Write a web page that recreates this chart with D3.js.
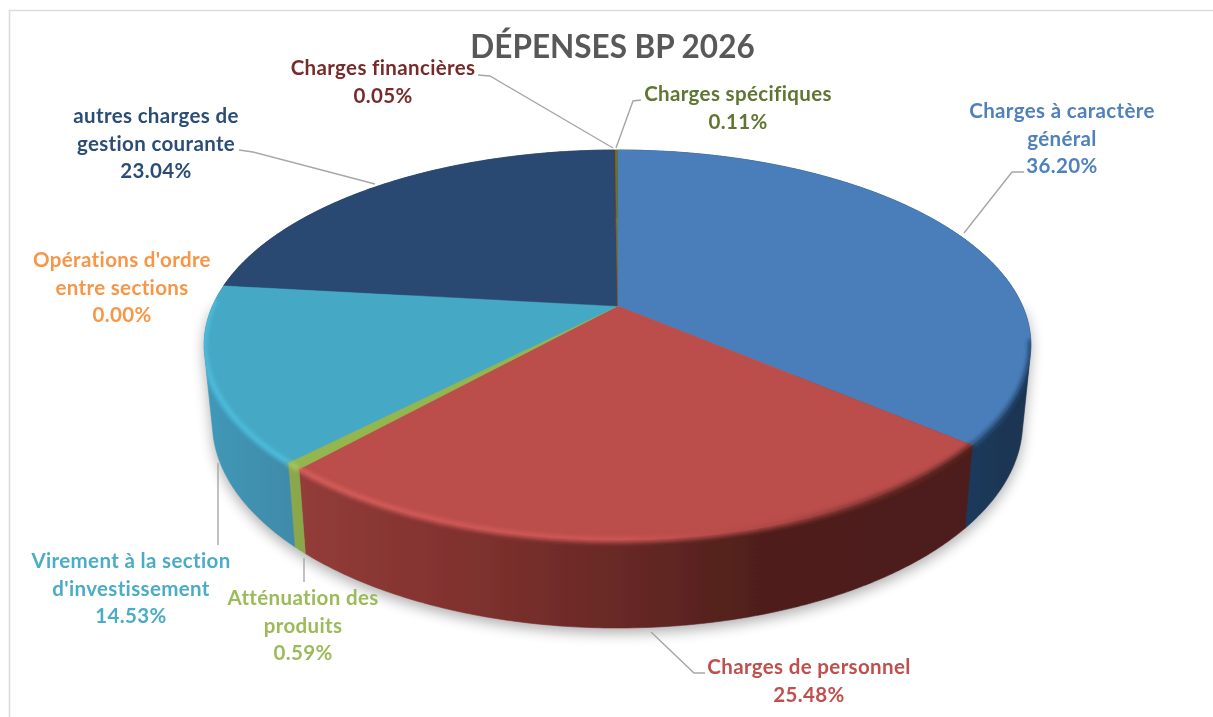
<!DOCTYPE html>
<html lang="fr">
<head>
<meta charset="utf-8">
<title>Dépenses BP 2026</title>
<script src="https://cdn.jsdelivr.net/npm/d3@7"></script>
<style>
  html, body { margin: 0; padding: 0; background: #fff; }
  svg { display: block; }
  text { font-family: Lato, "Open Sans", sans-serif; font-weight: 700; text-anchor: middle; }
</style>
</head>
<body>
<svg id="chart"></svg>
<script>
const chartTitle = 'DÉPENSES BP 2026';
const categories = [
  ['Charges à caractère', 'général'],
  ['Charges de personnel'],
  ['Atténuation des', 'produits'],
  ["Virement à la section", "d'investissement"],
  ["Opérations d'ordre", 'entre sections'],
  ['autres charges de', 'gestion courante'],
  ['Charges financières'],
  ['Charges spécifiques'],
];
const shares = [36.2, 25.48, 0.59, 14.53, 0.0, 23.04, 0.05, 0.11];

const faceColors = ['#4a7ebb', '#bb4e4b', '#93b64f', '#45a8c4', '#f79646', '#2a4a72', '#772c2a', '#5f7530'];
const textColors = ['#4f81bd', '#c0504d', '#9bbb59', '#4bacc6', '#f79646', '#2c4d75', '#772c2a', '#5f7530'];

// wall shading, [x px, colour]
const wallStops = [
  [[965, '#1c3a5c'], [1030, '#1b3350']],
  [[305, '#923c39'], [450, '#82322f'], [617, '#682926'], [760, '#4f1f1b'], [965, '#4e1e1a']],
  [[295, '#8aa84b'], [310, '#8aa84b']],
  [[205, '#3f98b8'], [295, '#3f8aa9']],
  [[200, '#c47535'], [210, '#c47535']],
  [[200, '#1f3a5c'], [617, '#1f3a5c']],
  [[600, '#5a2220'], [620, '#5a2220']],
  [[600, '#4a5c26'], [620, '#4a5c26']],
];
// soft rim highlight where the top face meets the wall
const bevelStops = [
  [[965, '#2f5a87'], [1035, '#1f3f63']],
  [[305, '#d9605c'], [620, '#d05855'], [780, '#a94542'], [900, '#702d2a'], [970, '#5a2522']],
  [[290, '#a4c85f'], [310, '#a4c85f']],
  [[205, '#4fbfe0'], [295, '#4fbfe0']],
  null,
  null,
  null,
  null,
];

// label layout: centre x, first line y, leader polyline
const labelLayout = [
  { x: 1062, y: 118, leader: [[1024, 172], [1012, 172], [964, 233]] },
  { x: 809, y: 674, leader: [[705, 673], [694, 673], [651, 632]] },
  { x: 303, y: 605, leader: [[304, 582], [304, 558]] },
  { x: 131, y: 568, leader: [[218, 545], [218, 463]] },
  { x: 122, y: 267, leader: null },
  { x: 156, y: 123, leader: [[239, 150], [253, 152], [375, 184]] },
  { x: 383, y: 75, leader: [[478, 75], [490, 76], [613, 148]] },
  { x: 738, y: 101, leader: [[641, 100], [633, 101], [616, 148]] },
];

const width = 1213;
const height = 717;
const linePitch = 27.5;

const svg = d3.select('#chart').attr('width', width).attr('height', height);
const defs = svg.append('defs');

defs.append('filter').attr('id', 'soft').append('feGaussianBlur').attr('stdDeviation', 0.5);
defs.append('filter').attr('id', 'bevelBlur')
  .attr('filterUnits', 'userSpaceOnUse')
  .attr('x', 0).attr('y', 0).attr('width', width).attr('height', height)
  .append('feGaussianBlur').attr('stdDeviation', 2.2);
defs.append('filter').attr('id', 'shadowBlur')
  .attr('x', '-10%').attr('y', '-10%').attr('width', '120%').attr('height', '130%')
  .append('feGaussianBlur').attr('stdDeviation', 7);

function addGradient(id, stops) {
  const x0 = stops[0][0];
  const x1 = stops[stops.length - 1][0];
  const grad = defs.append('linearGradient')
    .attr('id', id)
    .attr('gradientUnits', 'userSpaceOnUse')
    .attr('x1', x0).attr('x2', x1).attr('y1', 0).attr('y2', 0);
  stops.forEach(([x, color]) => {
    grad.append('stop').attr('offset', (x - x0) / (x1 - x0)).attr('stop-color', color);
  });
}
wallStops.forEach((s, i) => addGradient(`wall${i}`, s));
bevelStops.forEach((s, i) => s && addGradient(`bevel${i}`, s));

// the disc is a unit circle seen in perspective
const centerX = 617.5;
const centerY = 306;
const radiusX = 405;
const tilt = 0.2;
const slope = -126;

function project(angle) {
  const u = Math.sin(angle);
  const v = Math.cos(angle);
  const w = 1 + tilt * v;
  return [centerX + (radiusX * u) / w, (centerY + slope * v) / w];
}

// lower rim of the disc, mapped from the upper rim
const lowerX = d3.scaleLinear().domain([centerX, centerX + 100]).range([centerX, centerX + 98]);
const lowerY = d3.scaleLinear().domain([445, 540]).range([528, 628]);
const projectLow = (angle) => {
  const [x, y] = project(angle);
  return [lowerX(x), lowerY(y)];
};

const arcs = d3.pie().sort(null).value((d) => d)(shares);
const line = d3.line();

function rim(a0, a1, fn) {
  const n = Math.max(2, Math.ceil((a1 - a0) / 0.01));
  return d3.range(n + 1).map((i) => fn(a0 + ((a1 - a0) * i) / n));
}

// hull of both rims, so the wall keeps its straight side at the left and right extremes
const wallPath = (d) => {
  const top = rim(d.startAngle, d.endAngle, project);
  const low = rim(d.startAngle, d.endAngle, projectLow);
  return line(d3.polygonHull(top.concat(low))) + 'Z';
};
const facePath = (d) => line([[centerX, centerY]].concat(rim(d.startAngle, d.endAngle, project))) + 'Z';

// the highlight stays inside the disc outline
const hull = defs.append('clipPath').attr('id', 'hull');
hull.selectAll('path.w').data(arcs).join('path').attr('class', 'w').attr('d', wallPath);
hull.selectAll('path.f').data(arcs).join('path').attr('class', 'f').attr('d', facePath);

// border of the chart area
svg.append('path')
  .attr('d', line([[9.5, height], [9.5, 10.5], [width, 10.5]]))
  .attr('fill', 'none')
  .attr('stroke', '#dcdcdc')
  .attr('stroke-width', 1.6);

// cast shadow
const shadowShape = d3.polygonHull(
  rim(Math.PI / 2, (3 * Math.PI) / 2, project).concat(rim(0, 2 * Math.PI, projectLow)),
);
svg.append('path')
  .attr('d', line(shadowShape) + 'Z')
  .attr('transform', 'translate(0,5)')
  .attr('fill', '#000')
  .attr('opacity', 0.32)
  .attr('filter', 'url(#shadowBlur)');

const pie = svg.append('g').attr('filter', 'url(#soft)');
const visible = arcs.filter((d) => d.value > 0);

// walls first, the top face hides the back ones
pie.append('g').selectAll('path')
  .data(visible)
  .join('path')
  .attr('d', wallPath)
  .attr('fill', (d) => `url(#wall${d.index})`)
  .attr('stroke', (d) => `url(#wall${d.index})`)
  .attr('stroke-width', 0.6);

// top faces
pie.append('g').selectAll('path')
  .data(visible)
  .join('path')
  .attr('d', facePath)
  .attr('fill', (d) => faceColors[d.index])
  .attr('stroke', (d) => faceColors[d.index])
  .attr('stroke-width', 0.5);

// front rim highlight
const frontFrom = (100 * Math.PI) / 180;
const frontTo = (272 * Math.PI) / 180;
pie.append('g')
  .attr('clip-path', 'url(#hull)')
  .selectAll('path')
  .data(visible.filter((d) => bevelStops[d.index]))
  .join('path')
  .attr('d', (d) => line(rim(Math.max(d.startAngle, frontFrom), Math.min(d.endAngle, frontTo), project)))
  .attr('fill', 'none')
  .attr('stroke', (d) => `url(#bevel${d.index})`)
  .attr('stroke-width', 5)
  .attr('filter', 'url(#bevelBlur)');

// leader lines
svg.append('g').selectAll('path')
  .data(labelLayout.filter((d) => d.leader))
  .join('path')
  .attr('d', (d) => line(d.leader))
  .attr('fill', 'none')
  .attr('stroke', '#a6a6a6')
  .attr('stroke-width', 1.4);

const texts = svg.append('g').attr('filter', 'url(#soft)');

texts.append('text')
  .attr('x', 612.5)
  .attr('y', 58)
  .attr('fill', '#595959')
  .attr('font-size', 31.5)
  .text(chartTitle);

const labels = texts.selectAll('text.label')
  .data(shares)
  .join('text')
  .attr('class', 'label')
  .attr('fill', (d, i) => textColors[i])
  .attr('font-size', 20.5)
  .attr('letter-spacing', 0.35);

labels.each(function (value, i) {
  const layout = labelLayout[i];
  const lines = categories[i].concat(`${value.toFixed(2)}%`);
  d3.select(this).selectAll('tspan')
    .data(lines)
    .join('tspan')
    .attr('x', layout.x)
    .attr('y', (d, j) => layout.y + j * linePitch)
    .text((d) => d);
});
</script>
</body>
</html>
